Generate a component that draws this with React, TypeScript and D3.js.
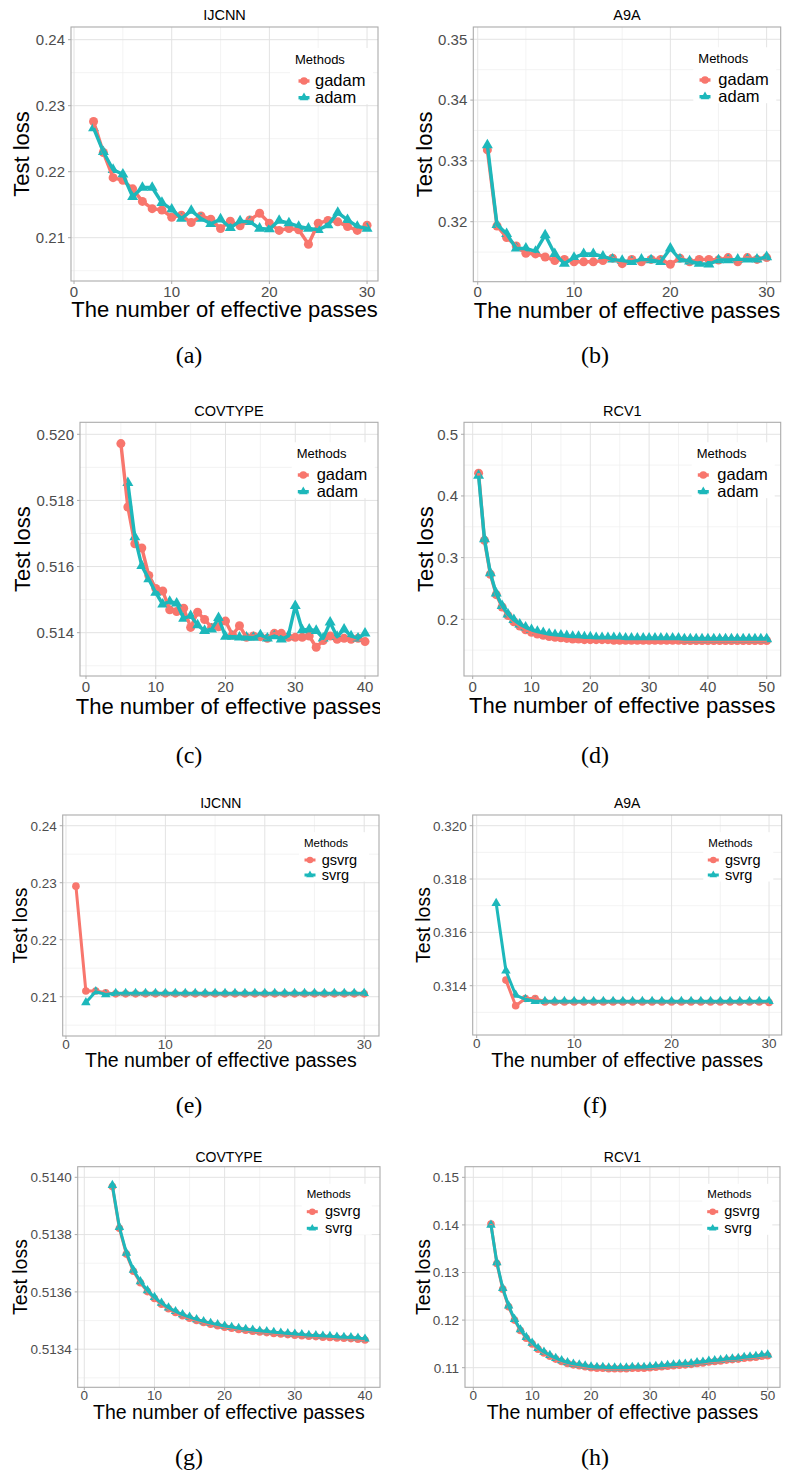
import React from "react";
import * as d3 from "d3";

const RED = "#F8766D";
const TEAL = "#1DB8BB";
const FONT = "'Liberation Sans', Arial, Helvetica, sans-serif";

// ---------- data ----------
// (a) IJCNN, adam-type, passes 2..30
const ijcnnGadam = [0.2276, 0.2229, 0.2191, 0.2187, 0.2174, 0.2155, 0.2144, 0.2142, 0.2131, 0.2134, 0.2123, 0.2133, 0.2128, 0.2114, 0.2125, 0.2118, 0.2127, 0.2137, 0.2122, 0.2111, 0.2114, 0.2112, 0.2090, 0.2122, 0.2126, 0.2124, 0.2117, 0.2111, 0.2119];
const ijcnnAdam = [0.2266, 0.2230, 0.2203, 0.2196, 0.2162, 0.2176, 0.2176, 0.2153, 0.2143, 0.2129, 0.2141, 0.2129, 0.2121, 0.2128, 0.2115, 0.2125, 0.2124, 0.2114, 0.2113, 0.2126, 0.2122, 0.2117, 0.2114, 0.2112, 0.2119, 0.2138, 0.2127, 0.2117, 0.2114];
// (b) A9A, passes 1..30
const a9aGadam = [0.3318, 0.3193, 0.3174, 0.3160, 0.3148, 0.3147, 0.3142, 0.3136, 0.3138, 0.3134, 0.3134, 0.3134, 0.3136, 0.3140, 0.3131, 0.3138, 0.3134, 0.3138, 0.3138, 0.3130, 0.3140, 0.3134, 0.3138, 0.3138, 0.3137, 0.3141, 0.3134, 0.3141, 0.3138, 0.3141];
const a9aAdam = [0.3326, 0.3195, 0.3180, 0.3156, 0.3156, 0.3151, 0.3178, 0.3147, 0.3131, 0.3141, 0.3147, 0.3147, 0.3143, 0.3138, 0.3136, 0.3134, 0.3138, 0.3137, 0.3134, 0.3156, 0.3138, 0.3135, 0.3131, 0.3130, 0.3137, 0.3137, 0.3138, 0.3138, 0.3138, 0.3142];
// (c) COVTYPE, gadam passes 5..40, adam passes 6..40
const covGadam = [0.51972, 0.51780, 0.51669, 0.51656, 0.51573, 0.51534, 0.51526, 0.51469, 0.51464, 0.51474, 0.51416, 0.51462, 0.51440, 0.51416, 0.51418, 0.51435, 0.51393, 0.51421, 0.51386, 0.51390, 0.51388, 0.51383, 0.51398, 0.51398, 0.51386, 0.51386, 0.51386, 0.51390, 0.51356, 0.51376, 0.51390, 0.51380, 0.51383, 0.51380, 0.51383, 0.51373];
const covAdam = [0.51853, 0.51689, 0.51602, 0.51562, 0.51521, 0.51486, 0.51494, 0.51489, 0.51443, 0.51451, 0.51423, 0.51406, 0.51410, 0.51445, 0.51388, 0.51388, 0.51386, 0.51386, 0.51385, 0.51393, 0.51383, 0.51390, 0.51380, 0.51390, 0.51481, 0.51408, 0.51410, 0.51406, 0.51383, 0.51431, 0.51388, 0.51410, 0.51390, 0.51383, 0.51398];
// (d) RCV1, passes 1..50
const rcvGadam = [0.437, 0.328, 0.273, 0.240, 0.220, 0.206, 0.196, 0.189, 0.183, 0.179, 0.176, 0.174, 0.172, 0.171, 0.170, 0.169, 0.168, 0.168, 0.167, 0.167, 0.167, 0.167, 0.167, 0.166, 0.166, 0.166, 0.166, 0.166, 0.166, 0.166, 0.166, 0.166, 0.166, 0.166, 0.166, 0.1655, 0.1655, 0.1655, 0.1655, 0.1655, 0.1655, 0.1655, 0.1655, 0.1655, 0.1655, 0.1655, 0.1655, 0.1655, 0.1655, 0.1655];
const rcvAdam = [0.433, 0.330, 0.275, 0.242, 0.222, 0.208, 0.199, 0.192, 0.187, 0.183, 0.180, 0.178, 0.176, 0.175, 0.174, 0.173, 0.172, 0.172, 0.171, 0.171, 0.170, 0.170, 0.170, 0.170, 0.170, 0.169, 0.169, 0.169, 0.169, 0.169, 0.169, 0.169, 0.169, 0.169, 0.169, 0.168, 0.168, 0.168, 0.168, 0.168, 0.168, 0.168, 0.168, 0.168, 0.168, 0.168, 0.168, 0.168, 0.168, 0.168];
// (e) IJCNN svrg-type: gsvrg passes 1..30, svrg passes 2..30
const ijcnnGsvrg = [0.2294, 0.2110, 0.2110, 0.2107, 0.2105, 0.2105, 0.2105, 0.2105, 0.2105, 0.2105, 0.2105, 0.2105, 0.2105, 0.2105, 0.2105, 0.2105, 0.2105, 0.2105, 0.2105, 0.2105, 0.2105, 0.2105, 0.2105, 0.2105, 0.2105, 0.2105, 0.2105, 0.2105, 0.2105, 0.2105];
const ijcnnSvrg = [0.2090, 0.2109, 0.2104, 0.2106, 0.2106, 0.2106, 0.2106, 0.2106, 0.2106, 0.2106, 0.2106, 0.2106, 0.2106, 0.2106, 0.2106, 0.2106, 0.2106, 0.2106, 0.2106, 0.2106, 0.2106, 0.2106, 0.2106, 0.2106, 0.2106, 0.2106, 0.2106, 0.2106, 0.2106];
// (f) A9A: gsvrg passes 3..30, svrg passes 2..30
const a9aGsvrg = [0.31421, 0.31325, 0.31352, 0.31352, 0.31339, 0.31339, 0.31339, 0.31339, 0.31339, 0.31339, 0.31339, 0.31339, 0.31339, 0.31339, 0.31339, 0.31339, 0.31339, 0.31339, 0.31339, 0.31339, 0.31339, 0.31339, 0.31339, 0.31339, 0.31339, 0.31339, 0.31339, 0.31337];
const a9aSvrg = [0.31709, 0.31456, 0.31365, 0.31349, 0.31342, 0.31342, 0.31342, 0.31342, 0.31342, 0.31342, 0.31342, 0.31342, 0.31342, 0.31342, 0.31342, 0.31342, 0.31342, 0.31342, 0.31342, 0.31342, 0.31342, 0.31342, 0.31342, 0.31342, 0.31342, 0.31342, 0.31342, 0.31342, 0.31342];
// (g) COVTYPE: passes 4..40
const covGsvrg = [0.513968, 0.513822, 0.513732, 0.513672, 0.513632, 0.513601, 0.513577, 0.513557, 0.513541, 0.513528, 0.513517, 0.513508, 0.513500, 0.513493, 0.513487, 0.513482, 0.513477, 0.513473, 0.513469, 0.513466, 0.513463, 0.513460, 0.513458, 0.513455, 0.513453, 0.513451, 0.513449, 0.513447, 0.513445, 0.513444, 0.513442, 0.513441, 0.513439, 0.513438, 0.513437, 0.513435, 0.513432];
const covSvrg = [0.513972, 0.513826, 0.513736, 0.513676, 0.513636, 0.513605, 0.513581, 0.513561, 0.513545, 0.513532, 0.513521, 0.513512, 0.513504, 0.513497, 0.513491, 0.513486, 0.513481, 0.513477, 0.513473, 0.513470, 0.513467, 0.513464, 0.513462, 0.513459, 0.513457, 0.513455, 0.513453, 0.513451, 0.513449, 0.513448, 0.513446, 0.513445, 0.513443, 0.513442, 0.513441, 0.513439, 0.513436];
// (h) RCV1: passes 3..50
const rcvGsvrg = [0.1402, 0.1319, 0.1265, 0.1228, 0.1200, 0.1178, 0.1162, 0.1150, 0.1139, 0.1131, 0.1124, 0.1118, 0.1113, 0.1109, 0.1106, 0.1104, 0.1102, 0.1100, 0.1099, 0.1099, 0.1098, 0.1098, 0.1098, 0.1098, 0.1099, 0.1099, 0.1099, 0.1100, 0.1101, 0.1102, 0.1103, 0.1104, 0.1105, 0.1106, 0.1107, 0.1109, 0.1110, 0.1112, 0.1113, 0.1114, 0.1116, 0.1117, 0.1118, 0.1120, 0.1121, 0.1122, 0.1124, 0.1125];
const rcvSvrg = [0.1400, 0.1321, 0.1267, 0.1230, 0.1202, 0.1180, 0.1164, 0.1152, 0.1141, 0.1133, 0.1126, 0.1120, 0.1115, 0.1111, 0.1108, 0.1106, 0.1104, 0.1102, 0.1101, 0.1101, 0.1100, 0.1100, 0.1100, 0.1100, 0.1101, 0.1101, 0.1101, 0.1102, 0.1103, 0.1104, 0.1105, 0.1106, 0.1107, 0.1108, 0.1109, 0.1111, 0.1112, 0.1114, 0.1115, 0.1116, 0.1118, 0.1119, 0.1120, 0.1122, 0.1123, 0.1124, 0.1126, 0.1127];

const adamLabels = ["gadam", "adam"];
const svrgLabels = ["gsvrg", "svrg"];
const ticks30 = [0, 10, 20, 30];
const minor30 = [5, 15, 25];
const ticks40 = [0, 10, 20, 30, 40];
const minor40 = [5, 15, 25, 35];
const ticks50 = [0, 10, 20, 30, 40, 50];
const minor50 = [5, 15, 25, 35, 45];
const captions = ["(a)", "(b)", "(c)", "(d)", "(e)", "(f)", "(g)", "(h)"];
const titles = ["IJCNN", "A9A", "COVTYPE", "RCV1", "IJCNN", "A9A", "COVTYPE", "RCV1"];

type Style = {
  tick: number; axis: number; title: number; legTitle: number; legText: number;
  lw: number; r: number; tri: number; xTickOff: number; legW: number;
};
const bigStyle: Style = { tick: 15, axis: 22, title: 14.5, legTitle: 13, legText: 16.5, lw: 3.4, r: 4.5, tri: 11, xTickOff: 15.5, legW: 83 };
const smallStyle: Style = { tick: 13.5, axis: 19.5, title: 14, legTitle: 11.5, legText: 14.5, lw: 3, r: 3.8, tri: 9.5, xTickOff: 12.8, legW: 70 };

type Panel = {
  box: [number, number, number, number];
  xDom: [number, number]; yDom: [number, number];
  xTicks: number[]; xMinor: number[]; yTicks: number[]; yMinor: number[]; yFmt: string;
  series: number[][]; starts: number[]; labels: string[];
  titleY: number; yTitleX: number; xTitleY: number;
  leg: { mx: number; my: number; kx: number; k1: number; k2: number; tx: number };
  capX: number; capY: number; st: Style; clipRight?: number;
};

const panels: Panel[] = [
  { box: [71, 378, 27, 281], xDom: [-0.31, 31.12], yDom: [0.20344, 0.24192], xTicks: ticks30, xMinor: minor30,
    yTicks: [0.21, 0.22, 0.23, 0.24], yMinor: [0.205, 0.215, 0.225, 0.235], yFmt: ".2f",
    series: [ijcnnGadam, ijcnnAdam], starts: [2, 2], labels: adamLabels,
    titleY: 20, yTitleX: 28.5, xTitleY: 317, leg: { mx: 295, my: 64, kx: 304, k1: 81, k2: 97.7, tx: 315 },
    capX: 189, capY: 363, st: bigStyle, clipRight: 381 },
  { box: [473.3, 780.7, 27, 281.7], xDom: [-0.46, 31.46], yDom: [0.31013, 0.35202], xTicks: ticks30, xMinor: minor30,
    yTicks: [0.32, 0.33, 0.34, 0.35], yMinor: [0.315, 0.325, 0.335, 0.345], yFmt: ".2f",
    series: [a9aGadam, a9aAdam], starts: [1, 1], labels: adamLabels,
    titleY: 20, yTitleX: 432, xTitleY: 318, leg: { mx: 698.3, my: 63.3, kx: 705, k1: 80, k2: 96.7, tx: 718.3 },
    capX: 595, capY: 363, st: bigStyle },
  { box: [80, 378, 422.3, 676], xDom: [-0.86, 41.86], yDom: [0.51269, 0.520363], xTicks: ticks40, xMinor: minor40,
    yTicks: [0.514, 0.516, 0.518, 0.52], yMinor: [0.513, 0.515, 0.517, 0.519], yFmt: ".3f",
    series: [covGadam, covAdam], starts: [5, 6], labels: adamLabels,
    titleY: 416, yTitleX: 29.5, xTitleY: 713.5, leg: { mx: 296.7, my: 458.3, kx: 303.3, k1: 475, k2: 491.7, tx: 316.7 },
    capX: 189, capY: 763, st: bigStyle, clipRight: 380 },
  { box: [464, 780.7, 422.3, 676], xDom: [-1.48, 52.38], yDom: [0.1081, 0.5194], xTicks: ticks50, xMinor: minor50,
    yTicks: [0.2, 0.3, 0.4, 0.5], yMinor: [0.15, 0.25, 0.35, 0.45], yFmt: ".1f",
    series: [rcvGadam, rcvAdam], starts: [1, 1], labels: adamLabels,
    titleY: 416, yTitleX: 432.5, xTitleY: 713, leg: { mx: 696.7, my: 458.3, kx: 703.3, k1: 475, k2: 491.7, tx: 717.3 },
    capX: 595, capY: 763, st: bigStyle },
  { box: [62.7, 379, 815, 1036], xDom: [-0.33, 31.49], yDom: [0.20311, 0.24188], xTicks: ticks30, xMinor: minor30,
    yTicks: [0.21, 0.22, 0.23, 0.24], yMinor: [0.205, 0.215, 0.225, 0.235], yFmt: ".2f",
    series: [ijcnnGsvrg, ijcnnSvrg], starts: [1, 2], labels: svrgLabels,
    titleY: 808, yTitleX: 27, xTitleY: 1067.3, leg: { mx: 304, my: 846.7, kx: 310, k1: 860, k2: 875, tx: 321.7 },
    capX: 189, capY: 1113, st: smallStyle },
  { box: [472.7, 781.7, 815, 1035], xDom: [-0.41, 31.3], yDom: [0.312151, 0.320401], xTicks: ticks30, xMinor: minor30,
    yTicks: [0.314, 0.316, 0.318, 0.32], yMinor: [0.313, 0.315, 0.317, 0.319], yFmt: ".3f",
    series: [a9aGsvrg, a9aSvrg], starts: [3, 2], labels: svrgLabels,
    titleY: 808, yTitleX: 429.5, xTitleY: 1067, leg: { mx: 708.3, my: 846.7, kx: 713.3, k1: 860, k2: 875, tx: 725 },
    capX: 595, capY: 1113, st: smallStyle },
  { box: [77.7, 380, 1166.7, 1387.3], xDom: [-0.94, 42.14], yDom: [0.513267, 0.514037], xTicks: ticks40, xMinor: minor40,
    yTicks: [0.5134, 0.5136, 0.5138, 0.514], yMinor: [0.5133, 0.5135, 0.5137, 0.5139], yFmt: ".4f",
    series: [covGsvrg, covSvrg], starts: [4, 4], labels: svrgLabels,
    titleY: 1161.5, yTitleX: 27, xTitleY: 1419, leg: { mx: 306.7, my: 1198.3, kx: 312.3, k1: 1211.7, k2: 1228.3, tx: 325 },
    capX: 189, capY: 1465, st: smallStyle },
  { box: [465, 780, 1166.7, 1387.3], xDom: [-1.41, 52.09], yDom: [0.10588, 0.15223], xTicks: ticks50, xMinor: minor50,
    yTicks: [0.11, 0.12, 0.13, 0.14, 0.15], yMinor: [0.115, 0.125, 0.135, 0.145], yFmt: ".2f",
    series: [rcvGsvrg, rcvSvrg], starts: [3, 3], labels: svrgLabels,
    titleY: 1161.5, yTitleX: 429.5, xTitleY: 1419, leg: { mx: 707.3, my: 1198.3, kx: 712.7, k1: 1211.7, k2: 1228.3, tx: 724.3 },
    capX: 595, capY: 1465, st: smallStyle },
];

const COLORS = [RED, TEAL];

function Marker({ kind, x, y, r, tri, color }: { kind: number; x: number; y: number; r: number; tri: number; color: string }) {
  if (kind === 0) return <circle cx={x} cy={y} r={r} fill={color} />;
  const area = (Math.sqrt(3) / 4) * tri * tri;
  const path = d3.symbol(d3.symbolTriangle, area)() as string;
  return <path d={path} transform={`translate(${x},${y})`} fill={color} />;
}

function PanelView({ p, idx }: { p: Panel; idx: number }) {
  const [x0, x1, y0, y1] = p.box;
  const st = p.st;
  const xs = d3.scaleLinear().domain(p.xDom).range([x0, x1]);
  const ys = d3.scaleLinear().domain(p.yDom).range([y1, y0]);
  const fmt = d3.format(p.yFmt);
  const pts = p.series.map((s, k) => s.map((v, i) => [p.starts[k] + i, v] as [number, number]));
  const line = d3.line<[number, number]>().x((d) => xs(d[0])).y((d) => ys(d[1]));
  const cx = (x0 + x1) / 2;
  const cy = (y0 + y1) / 2;
  const clipId = `clip${idx}`;
  const legTop = p.leg.my - st.legTitle - 3;
  const legBottom = p.leg.k2 + 6.5;
  return (
    <g>
      {p.clipRight !== undefined && (
        <defs>
          <clipPath id={clipId}>
            <rect x={0} y={y0 - 40} width={p.clipRight} height={y1 - y0 + 120} />
          </clipPath>
        </defs>
      )}
      <text x={cx} y={p.titleY} textAnchor="middle" fontSize={st.title} fontFamily={FONT} fill="#000">{titles[idx]}</text>
      {p.xMinor.map((t) => <line key={"xm" + t} x1={xs(t)} x2={xs(t)} y1={y0} y2={y1} stroke="#F0F0F0" strokeWidth={0.8} />)}
      {p.yMinor.map((t) => <line key={"ym" + t} y1={ys(t)} y2={ys(t)} x1={x0} x2={x1} stroke="#F0F0F0" strokeWidth={0.8} />)}
      {p.xTicks.map((t) => <line key={"xg" + t} x1={xs(t)} x2={xs(t)} y1={y0} y2={y1} stroke="#E3E3E3" strokeWidth={1} />)}
      {p.yTicks.map((t) => <line key={"yg" + t} y1={ys(t)} y2={ys(t)} x1={x0} x2={x1} stroke="#E3E3E3" strokeWidth={1} />)}
      {pts.map((s, k) => (
        <g key={"p" + k}>
          {s.map((d, i) => <Marker key={i} kind={k} x={xs(d[0])} y={ys(d[1])} r={st.r} tri={st.tri} color={COLORS[k]} />)}
        </g>
      ))}
      {pts.map((s, k) => (
        <path key={"l" + k} d={line(s) as string} fill="none" stroke={COLORS[k]} strokeWidth={st.lw} strokeLinejoin="round" />
      ))}
      <rect x={p.leg.mx - 5} y={legTop} width={st.legW} height={legBottom - legTop} fill="#fff" />
      <text x={p.leg.mx} y={p.leg.my} fontSize={st.legTitle} fontFamily={FONT} fill="#000">Methods</text>
      {[p.leg.k1, p.leg.k2].map((ky, k) => (
        <g key={"lg" + k}>
          <line x1={p.leg.kx - 5.5} x2={p.leg.kx + 5.5} y1={ky} y2={ky} stroke={COLORS[k]} strokeWidth={st.lw} />
          <Marker kind={k} x={p.leg.kx} y={ky} r={st.r * 0.85} tri={st.tri * 0.8} color={COLORS[k]} />
          <text x={p.leg.tx} y={ky} dy="0.33em" fontSize={st.legText} fontFamily={FONT} fill="#000">{p.labels[k]}</text>
        </g>
      ))}
      <rect x={x0} y={y0} width={x1 - x0} height={y1 - y0} fill="none" stroke="#ABABAB" strokeWidth={1.1} />
      {p.xTicks.map((t) => (
        <g key={"xt" + t}>
          <line x1={xs(t)} x2={xs(t)} y1={y1} y2={y1 + 3} stroke="#ABABAB" strokeWidth={1} />
          <text x={xs(t)} y={y1 + st.xTickOff} textAnchor="middle" fontSize={st.tick} fontFamily={FONT} fill="#4D4D4D">{t}</text>
        </g>
      ))}
      {p.yTicks.map((t) => (
        <g key={"yt" + t}>
          <line x1={x0 - 3} x2={x0} y1={ys(t)} y2={ys(t)} stroke="#ABABAB" strokeWidth={1} />
          <text x={x0 - 6} y={ys(t)} dy="0.36em" textAnchor="end" fontSize={st.tick} fontFamily={FONT} fill="#4D4D4D">{fmt(t)}</text>
        </g>
      ))}
      <text transform={`translate(${p.yTitleX},${cy}) rotate(-90)`} textAnchor="middle" fontSize={st.axis} fontFamily={FONT} fill="#000">Test loss</text>
      <g clipPath={p.clipRight !== undefined ? `url(#${clipId})` : undefined}>
        <text x={cx} y={p.xTitleY} textAnchor="middle" fontSize={st.axis} fontFamily={FONT} fill="#000">The number of effective passes</text>
      </g>
      <text x={p.capX} y={p.capY} textAnchor="middle" fontSize={24} fontFamily="'Liberation Serif', 'DejaVu Serif', serif" fill="#000">{captions[idx]}</text>
    </g>
  );
}

export default function App() {
  return (
    <svg width={787} height={1475} style={{ position: "absolute", left: 0, top: 0, background: "#fff" }}>
      <rect x={0} y={0} width={787} height={1475} fill="#fff" />
      {panels.map((p, i) => <PanelView key={i} p={p} idx={i} />)}
    </svg>
  );
}
